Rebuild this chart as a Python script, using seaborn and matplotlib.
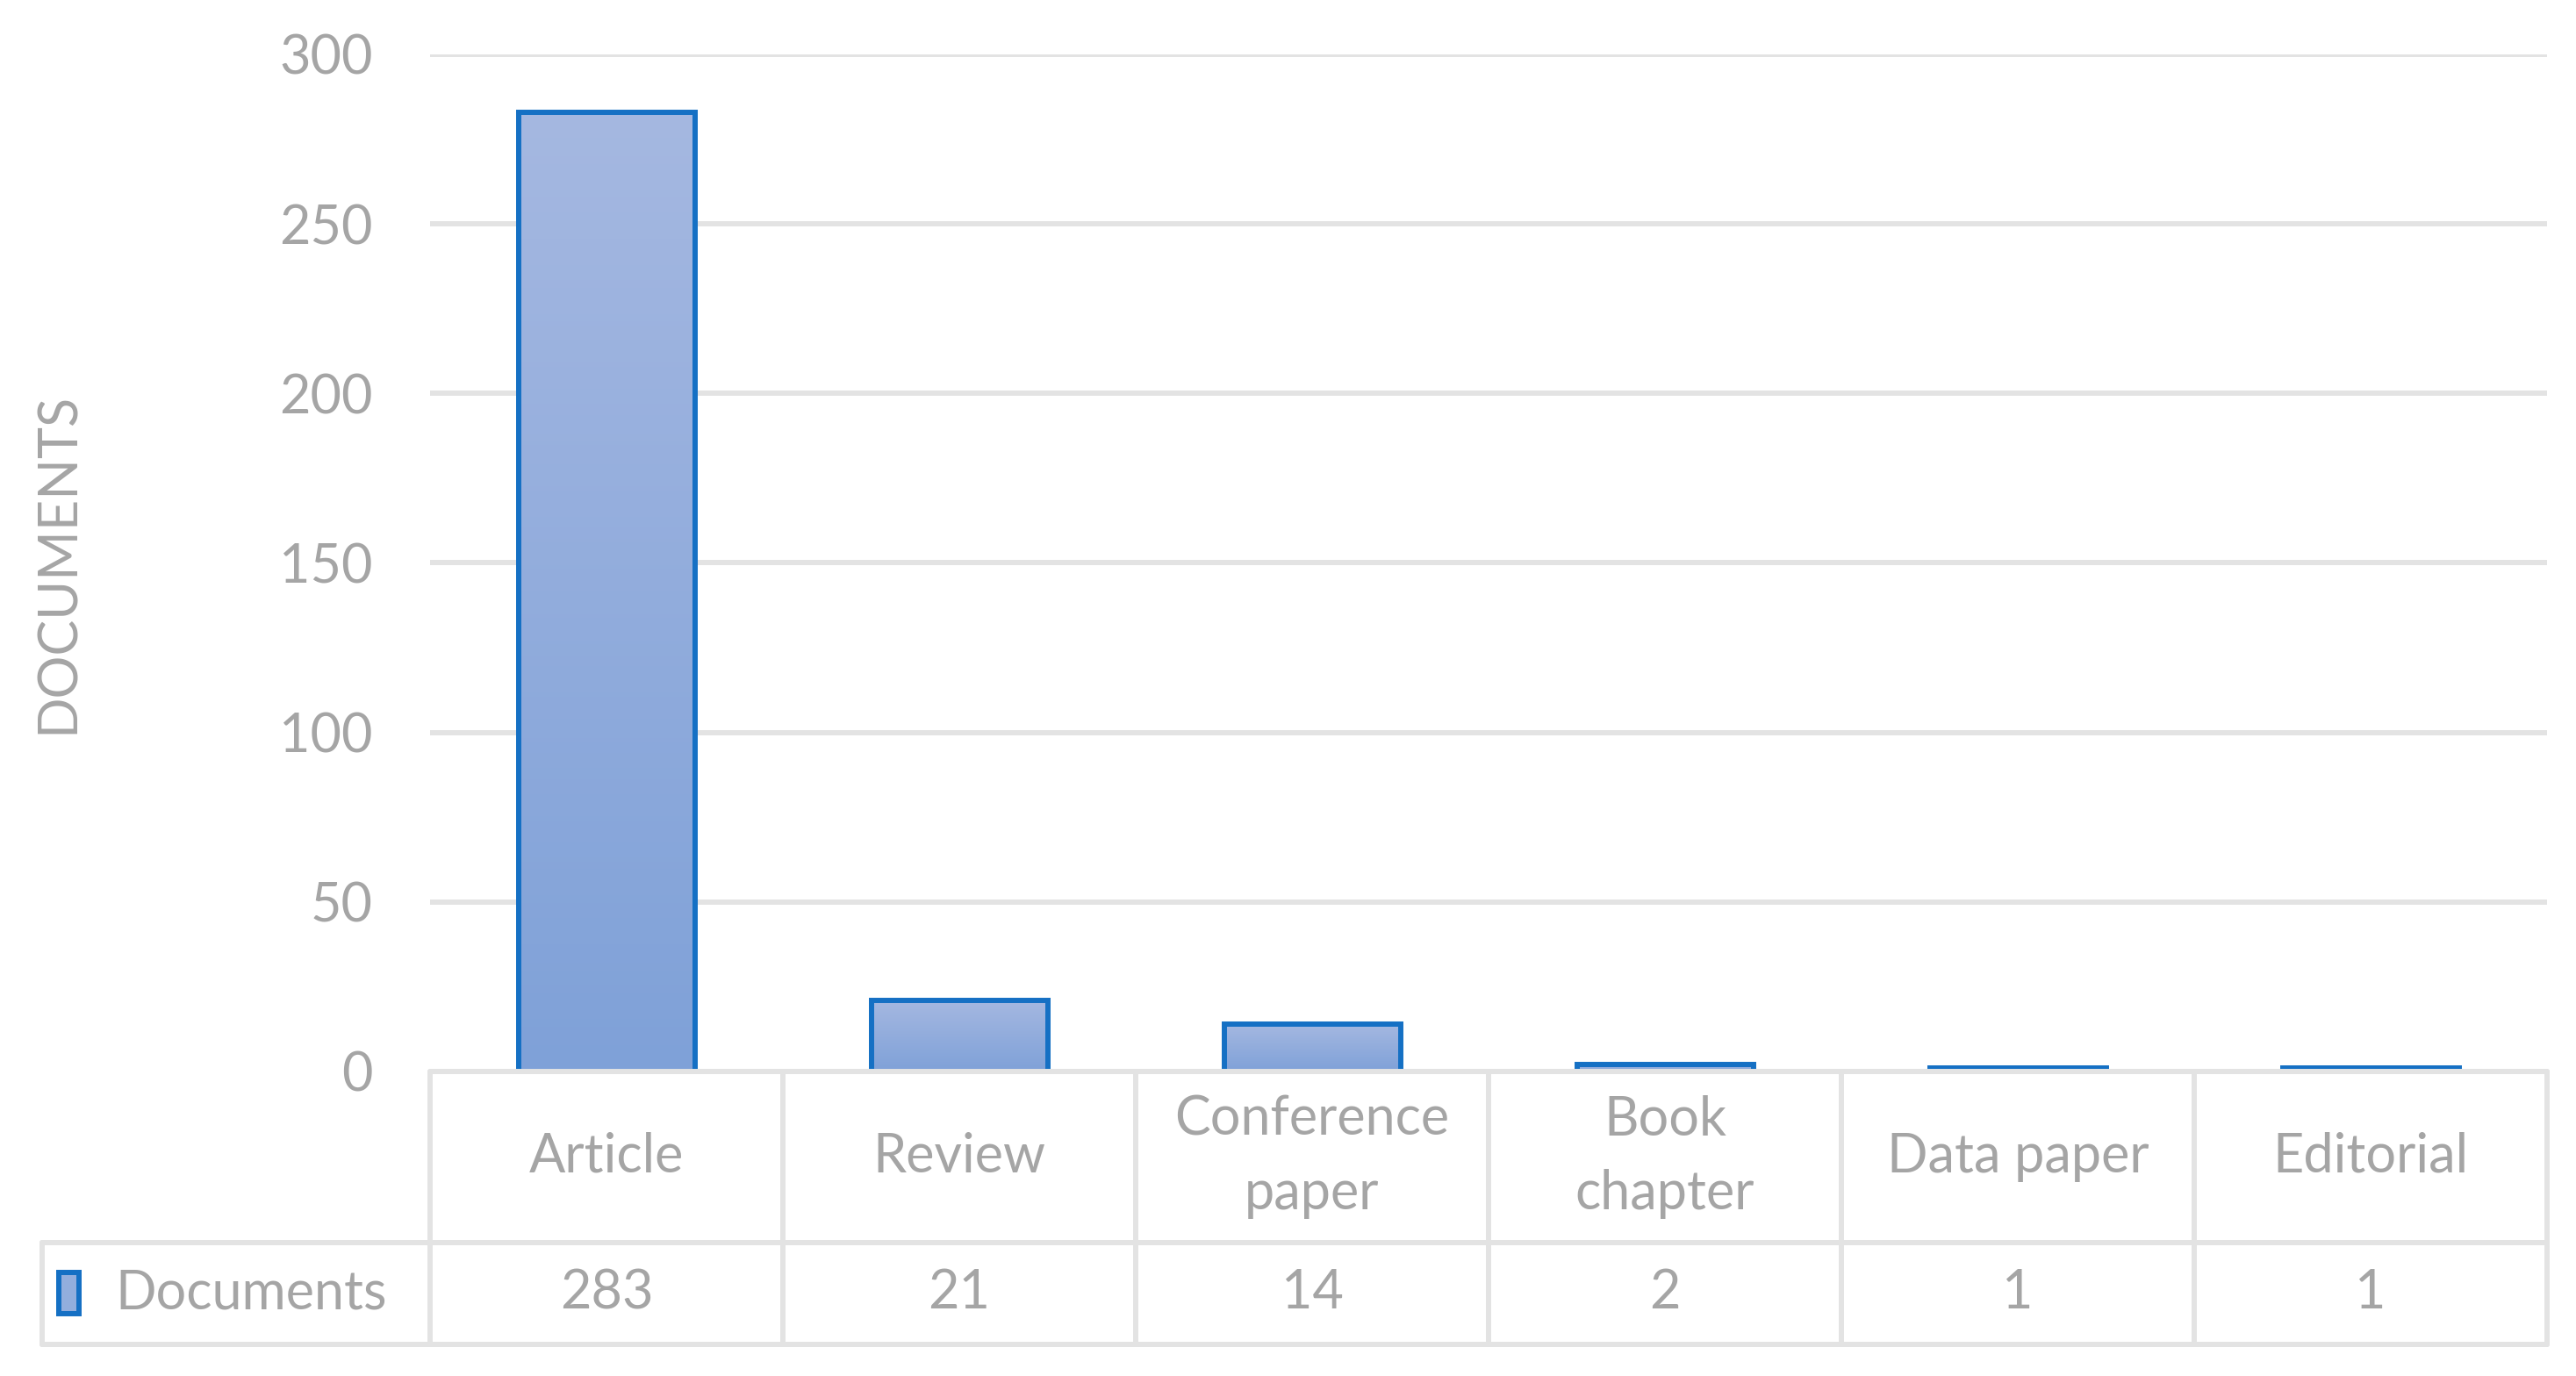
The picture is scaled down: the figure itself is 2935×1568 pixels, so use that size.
import textwrap

import numpy as np
import pandas as pd
import seaborn as sns
import matplotlib.pyplot as plt
from matplotlib.patches import Rectangle
from matplotlib.colors import LinearSegmentedColormap

# Document types and counts
categories = ['Article', 'Review', 'Conference paper', 'Book chapter', 'Data paper', 'Editorial']
documents = [283, 21, 14, 2, 1, 1]
series_name = 'Documents'
y_ticks = [0, 50, 100, 150, 200, 250, 300]

df = pd.DataFrame({'type': categories, 'documents': documents})

sns.set_theme(style='white')
plt.rcParams['font.family'] = ['Lato', 'DejaVu Sans']

W, H = 2935, 1568
fig = plt.figure(figsize=(W / 100, H / 100), dpi=100)
ax = fig.add_axes([490 / W, 1 - 1221 / H, (2902 - 490) / W, (1221 - 62) / H])

text_color = '#A5A5A5'
grid_color = '#E3E3E3'
edge_color = '#1570C4'
fs = 44
gradient = LinearSegmentedColormap.from_list('bar', ['#7FA1D8', '#A5B8E1'])

sns.barplot(data=df, x='type', y='documents', ax=ax, width=0.5,
            color='#90ACDC', edgecolor=edge_color, linewidth=4.3, zorder=3)

# Fill each bar with a vertical gradient clipped to its shape
grad = np.linspace(0, 1, 256).reshape(-1, 1)
for p in list(ax.patches):
    x0, w, h = p.get_x(), p.get_width(), p.get_height()
    im = ax.imshow(grad, cmap=gradient, origin='lower', aspect='auto',
                   extent=[x0, x0 + w, 0, h], zorder=2.5)
    im.set_clip_path(p)
    p.set_facecolor('none')
ax.set_xlim(-0.5, len(categories) - 0.5)
ax.set_ylim(0, 300)

ax.set_yticks(y_ticks)
ax.tick_params(axis='y', labelsize=fs, colors=text_color, pad=47, length=0)
ax.set_xticks([])
ax.set_xlabel('')
ax.set_ylabel('DOCUMENTS', fontsize=fs, color=text_color)
ax.yaxis.set_label_coords(-0.164, 0.5)
ax.grid(axis='y', color=grid_color, linewidth=4.3, zorder=0)
ax.set_axisbelow(True)
for s in ax.spines.values():
    s.set_visible(False)

# Data table under the axis
tr = ax.get_xaxis_transform()
row_top, row_mid, row_bot = 0.0, -0.168, -0.268
left_hdr = -1.6
right = len(categories) - 0.5
line_kw = dict(color=grid_color, linewidth=4.3, transform=tr, clip_on=False, zorder=4)

ax.plot([-0.5, right], [row_top, row_top], **line_kw)
ax.plot([left_hdr, right], [row_mid, row_mid], **line_kw)
ax.plot([left_hdr, right], [row_bot, row_bot], **line_kw)
for i in range(len(categories) + 1):
    ax.plot([i - 0.5, i - 0.5], [row_top, row_bot], **line_kw)
ax.plot([left_hdr, left_hdr], [row_mid, row_bot], **line_kw)

for i, (cat, val) in enumerate(zip(categories, documents)):
    ax.text(i, (row_top + row_mid) / 2, textwrap.fill(cat, 10), transform=tr,
            ha='center', va='center', fontsize=fs, color=text_color,
            linespacing=1.6, clip_on=False)
    ax.text(i, (row_mid + row_bot) / 2, str(val), transform=tr,
            ha='center', va='center', fontsize=fs, color=text_color, clip_on=False)

# Legend key in the row header
key = Rectangle((-1.553, -0.238), 0.058, 0.04, transform=tr, facecolor='#93AEDD',
                edgecolor=edge_color, linewidth=4.3, clip_on=False, zorder=5)
ax.add_patch(key)
ax.text(-1.393, (row_mid + row_bot) / 2, series_name, transform=tr,
        ha='left', va='center', fontsize=fs, color=text_color, clip_on=False)

fig.savefig('out.png', dpi=100, facecolor='white')
